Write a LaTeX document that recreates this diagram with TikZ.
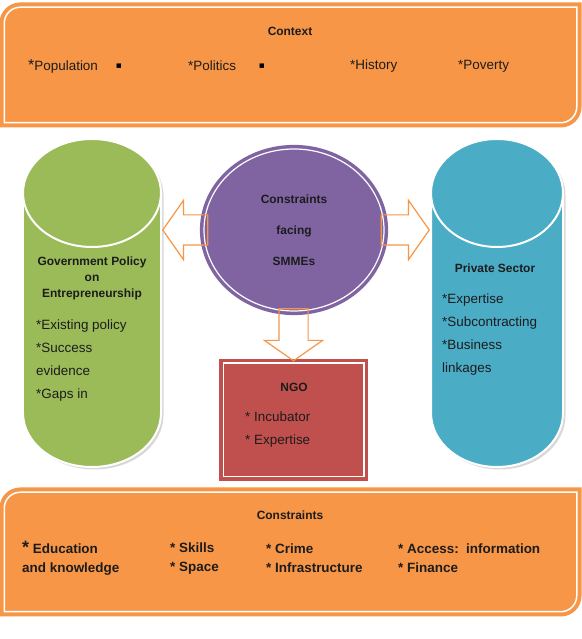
\documentclass[tikz,border=0pt]{standalone}
\usepackage{fontspec}
\setmainfont{Liberation Sans}
\newfontfamily\bulletfont{DejaVu Sans}
\usepackage{tikz}
\usetikzlibrary{shapes.geometric, shapes.arrows, shadows, positioning}

\definecolor{ctxorange}{HTML}{F79646}
\definecolor{govgreen}{HTML}{9BBB59}
\definecolor{privblue}{HTML}{4BACC6}
\definecolor{smmepurple}{HTML}{8064A2}
\definecolor{ngored}{HTML}{C0504D}
\definecolor{inkdark}{HTML}{1C1C1C}

\begin{document}
\begin{tikzpicture}[x=1bp, y=1bp,
    panel/.style={draw=ctxorange, fill=ctxorange, line width=4bp, double=white, double distance=1.5bp},
    title/.style={font=\bfseries\fontsize{12}{16}\selectfont, align=center, inner sep=0pt, text=inkdark},
    body/.style={font=\fontsize{13.5}{23}\selectfont, align=left, inner sep=0pt, text=inkdark},
    boldbody/.style={font=\bfseries\fontsize{13.5}{19}\selectfont, align=left, inner sep=0pt, text=inkdark},
    barrel/.style={cylinder, shape border rotate=90, draw=white, line width=2bp, inner sep=4bp, aspect=13.5,
        minimum width=138bp, minimum height=328bp, drop shadow={shadow xshift=2.5bp, shadow yshift=-2.5bp, opacity=0.3}},
    blockarrow/.style={single arrow, draw=ctxorange, line width=1.2bp, inner xsep=0pt, inner ysep=14.5bp,
        single arrow head extend=14.5bp, single arrow tip angle=110}]
    \useasboundingbox[fill=white] (0,0) rectangle (582,639);

    % context panel (top)
    \draw[panel] (4.25,516.25) -- (4.25,615.75) arc[start angle=180, end angle=90, radius=16] -- (576.75,631.75) -- (576.75,532.25) arc[start angle=0, end angle=-90, radius=16] -- cycle;
    \node[title] (ctx) at (290,608) {Context};
    \node[body, anchor=west] (pop) at (28,573) {{\fontsize{16}{16}\selectfont*}Population};
    \node[font=\bulletfont\fontsize{9}{9}\selectfont, inner sep=0pt] (dotA) at (119,573) {▪};
    \node[body, anchor=west] (pol) at (188,573) {*Politics};
    \node[font=\bulletfont\fontsize{9}{9}\selectfont, inner sep=0pt] (dotB) at (262,573) {▪};
    \node[body, anchor=west] (hist) at (350,573) {*History};
    \node[body, anchor=west] (pov) at (458,573) {*Poverty};

    % constraints panel (bottom)
    \draw[panel] (4.25,27.25) -- (4.25,130.75) arc[start angle=180, end angle=90, radius=16] -- (576.75,146.75) -- (576.75,43.25) arc[start angle=0, end angle=-90, radius=16] -- cycle;
    \node[title] (cons) at (290,124) {Constraints};
    \node[boldbody, anchor=west] (edu) at (22,80.5) {{\fontsize{18}{19}\selectfont*} Education\\and knowledge};
    \node[boldbody, anchor=west] (skill) at (170,80.5) {* Skills\\* Space};
    \node[boldbody, anchor=west] (crime) at (266,80.5) {* Crime\\* Infrastructure};
    \node[boldbody, anchor=west] (access) at (398,80.5) {* Access:\ \ information\\* Finance};

    % the two cylinders
    \node[barrel, fill=govgreen, anchor=shape center] (gov) at (92,336) {};
    \node[title] (govTitle) at (92,361) {Government Policy\\on\\Entrepreneurship};
    \node[body, anchor=west] (govItems) at (36,278.5) {*Existing policy\\*Success\\evidence\\*Gaps in};

    \node[barrel, fill=privblue, minimum width=132bp, anchor=shape center] (priv) at (497,336) {};
    \node[title] (privTitle) at (495,371) {Private Sector};
    \node[body, anchor=west] (privItems) at (442,304.5) {*Expertise\\*Subcontracting\\*Business\\linkages};

    % NGO box
    \node[draw=ngored, fill=ngored, line width=3.5bp, double=white, double distance=1.5bp,
          minimum width=140.5bp, minimum height=113.5bp] (ngo) at (293.5,219) {};
    \node[title] (ngoTitle) at (294,252) {NGO};
    \node[body, anchor=west] (ngoItems) at (245,209.5) {* Incubator\\* Expertise};

    % centre ellipse
    \node[ellipse, draw=smmepurple, fill=smmepurple, line width=3.5bp, double=white, double distance=1.2bp,
          minimum width=180bp, minimum height=162bp, inner sep=0pt, align=center,
          font=\bfseries\fontsize{12}{31}\selectfont, text=inkdark,
          drop shadow={shadow xshift=2bp, shadow yshift=-2bp, opacity=0.25}] (smme) at (294,409) {Constraints\\facing\\SMMEs};

    % block arrows out of the centre
    \node[blockarrow, shape border rotate=180, minimum height=45bp, anchor=tip] (arrGov) at (smme.west -| gov.east) {};
    \node[blockarrow, minimum height=48bp, anchor=tip] (arrPriv) at (smme.east -| priv.west) {};
    \node[blockarrow, shape border rotate=270, inner xsep=14bp, inner ysep=0pt, minimum height=52bp, anchor=tip] (arrNgo) at (ngo.north) {};
\end{tikzpicture}
\end{document}
